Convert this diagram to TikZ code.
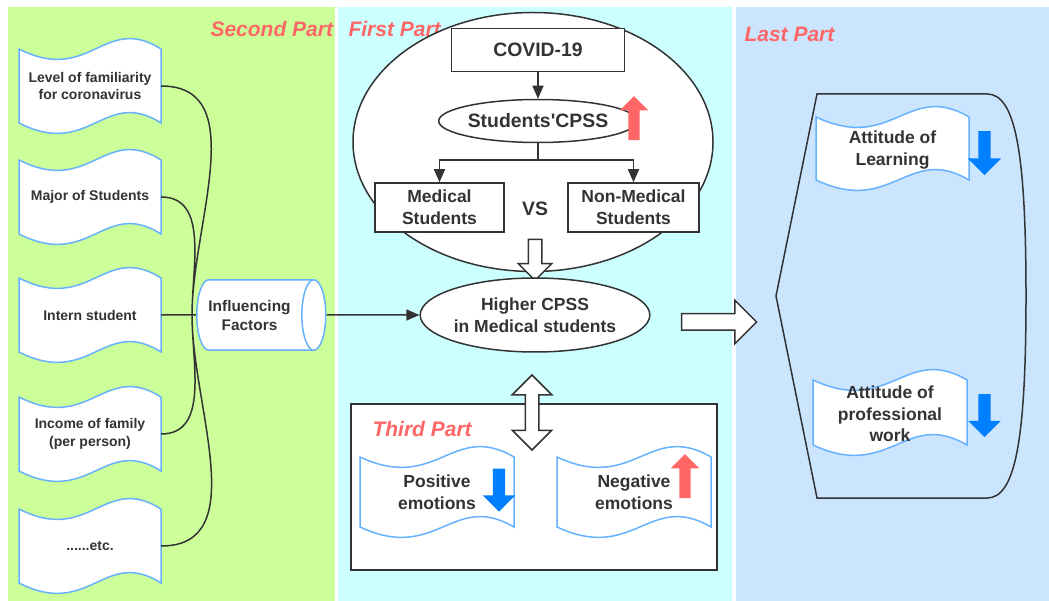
\documentclass[tikz,border=0pt]{standalone}
\usepackage{fontspec}
\setmainfont{Liberation Sans}
\usetikzlibrary{shapes.geometric,shapes.arrows,arrows.meta,positioning}
\definecolor{ink}{HTML}{333333}
\definecolor{partred}{HTML}{FF6666}
\definecolor{tapeblue}{HTML}{66B2FF}
\definecolor{arrowblue}{HTML}{0080FF}
\definecolor{greenbg}{HTML}{CCFF99}
\definecolor{cyanbg}{HTML}{CCFFFF}
\definecolor{bluebg}{HTML}{CCE5FF}
\tikzset{arr/.style={draw=ink,line width=1.5pt,-{Triangle[length=13pt,width=11pt]}}}
\tikzset{tapeline/.style={draw=tapeblue,fill=white,line width=1.5pt}}
\tikzset{doctext/.style={rectangle,inner sep=0pt,minimum width=142pt,minimum height=74pt,text=ink,align=center,font=\bfseries\fontsize{14}{17.5}\selectfont}}
\tikzset{emotext/.style={doctext,minimum width=154pt,minimum height=70pt,font=\bfseries\fontsize{17.5}{22}\selectfont}}
\tikzset{box/.style={rectangle,draw=ink,fill=white,line width=1.5pt,text=ink,align=center,font=\bfseries\fontsize{17.5}{22}\selectfont}}
\tikzset{oval/.style={box,ellipse,inner sep=0pt}}
\tikzset{ttl/.style={anchor=west,text=partred,font=\bfseries\itshape\fontsize{21}{25}\selectfont}}
\tikzset{hollow/.style={single arrow,draw=ink,fill=white,line width=1.5pt,inner xsep=0pt,single arrow head indent=0pt}}
\tikzset{uparr/.style={single arrow,fill=partred,rotate=90,inner xsep=0pt,inner ysep=5.5pt,single arrow head extend=8.5pt,minimum height=44pt}}
\tikzset{dnarr/.style={single arrow,fill=arrowblue,rotate=-90,inner xsep=0pt,inner ysep=6pt,single arrow head extend=10pt,minimum height=43pt}}
% wavy tape: centre x, centre y, width, side height
\newcommand{\tapeat}[4]{\draw[tapeline] ({#1-#3/2},{#2-#4/2}) .. controls (#1,{#2-#4/2+36}) and ({#1+#3/10},{#2-#4/2-36}) .. ({#1+#3/2},{#2-#4/2})
  -- ({#1+#3/2},{#2+#4/2}) .. controls ({#1+#3/10},{#2+#4/2-36}) and (#1,{#2+#4/2+36}) .. ({#1-#3/2},{#2+#4/2}) -- cycle;}
\begin{document}
\begin{tikzpicture}[x=1pt,y=-1pt]
\useasboundingbox (0,0) rectangle (1049,601);
\fill[greenbg] (8,7) rectangle (335,601);
\fill[cyanbg] (338,7) rectangle (732,601);
\fill[bluebg] (736,7) rectangle (1049,601);
\node at (207,29) [ttl] {Second Part};
\node at (345,29) [ttl] {First Part};
\node at (741,34) [ttl] {Last Part};
% second part
\foreach \n/\y/\txt in {famil/86/{Level of familiarity\\for coronavirus},major/197/{Major of Students},intern/315/{Intern student},income/434/{Income of family\\(per person)},etc/546/{......etc.}}
  {\tapeat{90}{\y}{142}{74}
   \node (\n) at (90,\y) [doctext] {\txt};}
\node (factors) at (196,315) [anchor=west,cylinder,shape border rotate=0,draw=tapeblue,fill=white,line width=1.5pt,aspect=0.34,inner xsep=0pt,inner ysep=20pt,minimum height=129pt,text=ink,align=center,font=\bfseries\fontsize{15.4}{19}\selectfont] {Influencing\\Factors};
\coordinate (hub) at (192,315);
\draw[ink,line width=1.5pt] (famil.east) to[out=0,in=90] (hub) (major.east) to[out=0,in=90] (hub)
  (income.east) to[out=0,in=-90] (hub) (etc.east) to[out=0,in=-90] (hub)
  (intern.east) -- (factors.west) (hub) -- (factors.west);
% first part
\node (firstell) at (533,142) [ellipse,draw=ink,fill=white,line width=1.5pt,minimum width=360pt,minimum height=259pt] {};
\node (covid) at (538,50) [box,minimum width=173pt,minimum height=43pt,font=\bfseries\fontsize{19.4}{23}\selectfont] {COVID-19};
\node (cpss) at (538,121) [oval,minimum width=172pt,minimum height=43pt,font=\bfseries\fontsize{19.4}{23}\selectfont] {Students\textquotesingle CPSS};
\node (cpssup) at (634,121) [uparr] {};
\node (med) at (439.5,207.5) [box,minimum width=129pt,minimum height=49pt] {Medical\\Students};
\node (nonmed) at (633.5,207.5) [box,minimum width=131pt,minimum height=49pt] {Non-Medical\\Students};
\node (vs) at (535,209) [text=ink,font=\bfseries\fontsize{19.4}{23}\selectfont] {VS};
\draw[arr] (covid) -- (cpss);
\draw[arr] (cpss.south) -- ++(0,17) -| (med.north);
\draw[arr] (cpss.south) -- ++(0,17) -| (nonmed.north);
\node (down) at (535,256.5) [hollow,rotate=-90,minimum height=41pt,inner ysep=6pt,single arrow head extend=10pt] {};
\node (higher) at (535,315) [oval,minimum width=203pt,minimum height=74pt] {Higher CPSS\\in Medical students};
\draw[arr] (factors.east) -- (higher.west);
% third part
\node (third) at (534,487) [rectangle,draw=ink,fill=white,line width=1.5pt,minimum width=366pt,minimum height=166pt] {};
\node (both) at (532,412.5) [double arrow,draw=ink,fill=white,line width=1.5pt,rotate=90,inner xsep=0pt,inner ysep=6pt,double arrow head extend=13pt,double arrow head indent=0pt,minimum height=75pt] {};
\node at (369,429) [ttl] {Third Part};
\tapeat{437}{492}{154}{70}
\node (pos) at (437,492) [emotext] {Positive\\emotions};
\tapeat{634}{492}{154}{70}
\node (neg) at (634,492) [emotext] {Negative\\emotions};
\node (posdn) at (499,487) [dnarr] {};
\node (negup) at (685,479) [uparr] {};
\node (toright) at (715,322) [hollow,minimum height=75pt,inner ysep=7.5pt,single arrow head extend=13.5pt] {};
% last part
\draw[ink,line width=1.5pt] (817,94) -- (987,94) .. controls (1015,94) and (1026,150) .. (1026,296) .. controls (1026,442) and (1015,498) .. (987,498) -- (817,498) -- (776,296) -- cycle;
\tapeat{892.5}{148.5}{153}{63}
\node (learn) at (892.5,150) [emotext,minimum width=153pt,minimum height=63pt] {Attitude of\\Learning};
\tapeat{890}{412.5}{154}{65}
\node (prof) at (890,414) [emotext,minimum height=65pt,font=\bfseries\fontsize{17.5}{21.5}\selectfont] {Attitude of\\professional\\work};
\node (learndn) at (984.5,150) [dnarr,minimum height=44pt,single arrow head extend=10.5pt] {};
\node (profdn) at (984.5,412.5) [dnarr] {};
\end{tikzpicture}
\end{document}
